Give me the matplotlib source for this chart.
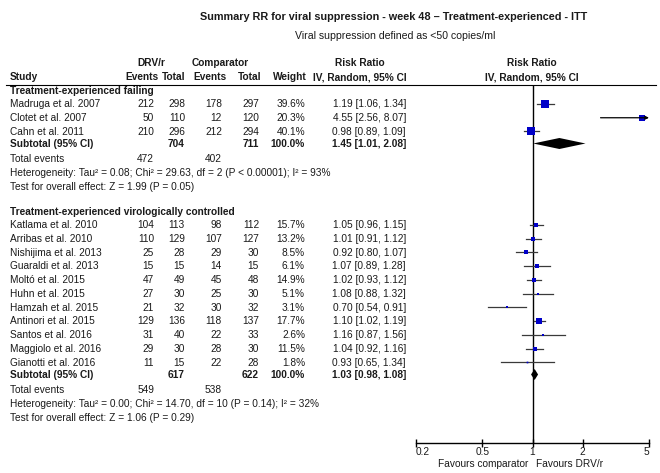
import numpy as np
import matplotlib
matplotlib.use("Agg")
import matplotlib.pyplot as plt

plt.rcParams['font.family'] = ['Liberation Sans', 'DejaVu Sans']

# ---- data ----
g1_name = "Treatment-experienced failing"
g1_study = ["Madruga et al. 2007", "Clotet et al. 2007", "Cahn et al. 2011"]
g1_ev_drv = [212, 50, 210]
g1_tot_drv = [298, 110, 296]
g1_ev_cmp = [178, 12, 212]
g1_tot_cmp = [297, 120, 294]
g1_weight = [39.6, 20.3, 40.1]
g1_rr = [1.19, 4.55, 0.98]
g1_lo = [1.06, 2.56, 0.89]
g1_hi = [1.34, 8.07, 1.09]
g1_sub = [1.45, 1.01, 2.08]
g1_totals = [704, 711, 472, 402]
g1_het = "Heterogeneity: Tau\u00b2 = 0.08; Chi\u00b2 = 29.63, df = 2 (P < 0.00001); I\u00b2 = 93%"
g1_test = "Test for overall effect: Z = 1.99 (P = 0.05)"

g2_name = "Treatment-experienced virologically controlled"
g2_study = ["Katlama et al. 2010", "Arribas et al. 2010", "Nishijima et al. 2013",
            "Guaraldi et al. 2013", "Moltó et al. 2015", "Huhn et al. 2015",
            "Hamzah et al. 2015", "Antinori et al. 2015", "Santos et al. 2016",
            "Maggiolo et al. 2016", "Gianotti et al. 2016"]
g2_ev_drv = [104, 110, 25, 15, 47, 27, 21, 129, 31, 29, 11]
g2_tot_drv = [113, 129, 28, 15, 49, 30, 32, 136, 40, 30, 15]
g2_ev_cmp = [98, 107, 29, 14, 45, 25, 30, 118, 22, 28, 22]
g2_tot_cmp = [112, 127, 30, 15, 48, 30, 32, 137, 33, 30, 28]
g2_weight = [15.7, 13.2, 8.5, 6.1, 14.9, 5.1, 3.1, 17.7, 2.6, 11.5, 1.8]
g2_rr = [1.05, 1.01, 0.92, 1.07, 1.02, 1.08, 0.70, 1.10, 1.16, 1.04, 0.93]
g2_lo = [0.96, 0.91, 0.80, 0.89, 0.93, 0.88, 0.54, 1.02, 0.87, 0.92, 0.65]
g2_hi = [1.15, 1.12, 1.07, 1.28, 1.12, 1.32, 0.91, 1.19, 1.56, 1.16, 1.34]
g2_sub = [1.03, 0.98, 1.08]
g2_totals = [617, 622, 549, 538]
g2_het = "Heterogeneity: Tau\u00b2 = 0.00; Chi\u00b2 = 14.70, df = 10 (P = 0.14); I\u00b2 = 32%"
g2_test = "Test for overall effect: Z = 1.06 (P = 0.29)"

ticks = [0.2, 0.5, 1, 2, 5]
tick_labels = ["0.2", "0.5", "1", "2", "5"]

W, H = 660, 473
fig = plt.figure(figsize=(W / 100, H / 100), dpi=100)
tx = fig.add_axes([0, 0, 1, 1])
tx.set_xlim(0, W)
tx.set_ylim(H, 0)
tx.axis('off')

x0, x1 = 416, 649
ytop, ybot = 85, 443
ax = fig.add_axes([x0 / W, (H - ybot) / H, (x1 - x0) / W, (ybot - ytop) / H])
ax.set_xscale('log')
ax.set_xlim(0.2, 5)
ax.set_ylim(ybot, ytop)
ax.patch.set_alpha(0)
for s in ['top', 'left', 'right']:
    ax.spines[s].set_visible(False)
ax.spines['bottom'].set_linewidth(1)
ax.set_yticks([])
ax.set_xticks(ticks)
ax.set_xticklabels(tick_labels)
ax.minorticks_off()
ax.tick_params(axis='x', direction='inout', length=6, width=1, pad=0, labelsize=7.3,
               labelcolor='#1a1a1a')
lbls = ax.get_xticklabels()
lbls[0].set_ha('left')
lbls[-1].set_ha('right')
ax.axvline(1, color='black', lw=1)

fs = 7.3
tc = '#1a1a1a'
cx = [10, 154, 185, 222, 259, 305, 406]  # column anchors

def txt(x, y, s, ha='right', bold=False, size=fs):
    tx.text(x, y, s, ha=ha, va='center', fontsize=size, color=tc,
            fontweight='bold' if bold else 'normal')

# title
tx.text(394, 17, "Summary RR for viral suppression - week 48 \u2013 Treatment-experienced - ITT",
        ha='center', va='center', fontsize=7.8, fontweight='bold', color=tc)
tx.text(395, 36, "Viral suppression defined as <50 copies/ml",
        ha='center', va='center', fontsize=7.6, color=tc)

# headers
txt(151, 63, "DRV/r", ha='center', bold=True)
txt(220, 63, "Comparator", ha='center', bold=True)
txt(360, 63, "Risk Ratio", ha='center', bold=True)
txt(532, 63, "Risk Ratio", ha='center', bold=True)
txt(cx[0], 77, "Study", ha='left', bold=True)
txt(158, 77, "Events", bold=True)
txt(185, 77, "Total", bold=True)
txt(227, 77, "Events", bold=True)
txt(261, 77, "Total", bold=True)
txt(307, 77, "Weight", bold=True)
txt(360, 77, "IV, Random, 95% CI", ha='center', bold=True)
txt(532, 77, "IV, Random, 95% CI", ha='center', bold=True)
tx.plot([6, 656], [85, 85], color='black', lw=0.8)

step = 13.75
blue = '#0000c8'

def group(ystart, name, study, evd, ttd, evc, ttc, wt, rr, lo, hi, sub, totals, het, test):
    txt(cx[0], ystart, name, ha='left', bold=True)
    ys = ystart + 13 + np.arange(len(study)) * step
    for i, y in enumerate(ys):
        txt(cx[0], y, study[i], ha='left')
        txt(cx[1], y, str(evd[i]))
        txt(cx[2], y, str(ttd[i]))
        txt(cx[3], y, str(evc[i]))
        txt(cx[4], y, str(ttc[i]))
        txt(cx[5], y, "%.1f%%" % wt[i])
        txt(cx[6], y, "%.2f [%.2f, %.2f]" % (rr[i], lo[i], hi[i]))
        if hi[i] > 5:
            ax.annotate('', xy=(5, y), xytext=(lo[i], y),
                        arrowprops=dict(arrowstyle='-|>', color='black', lw=0.9,
                                        mutation_scale=5, shrinkA=0, shrinkB=0))
        else:
            ax.plot([lo[i], hi[i]], [y, y], color='#3a3a3a', lw=0.9)
        side = 1.25 * np.sqrt(wt[i]) * 0.72
        ax.plot(rr[i], y, marker='s', ms=side, color=blue, mec=blue, mew=0)
    ysub = ys[-1] + 12
    txt(cx[0], ysub, "Subtotal (95% CI)", ha='left', bold=True)
    txt(cx[2], ysub, str(totals[0]), bold=True)
    txt(cx[4], ysub, str(totals[1]), bold=True)
    txt(cx[5], ysub, "100.0%", bold=True)
    txt(cx[6], ysub, "%.2f [%.2f, %.2f]" % tuple(sub), bold=True)
    est, l, h = sub
    ax.fill([l, est, h, est], [ysub, ysub - 5.5, ysub, ysub + 5.5], color='black', lw=0)
    yte = ysub + 15.5
    txt(cx[0], yte, "Total events", ha='left')
    txt(cx[1], yte, str(totals[2]))
    txt(cx[3], yte, str(totals[3]))
    txt(cx[0], yte + 13.75, het, ha='left')
    txt(cx[0], yte + 27.5, test, ha='left')

group(91, g1_name, g1_study, g1_ev_drv, g1_tot_drv, g1_ev_cmp, g1_tot_cmp,
      g1_weight, g1_rr, g1_lo, g1_hi, g1_sub, g1_totals, g1_het, g1_test)
group(212, g2_name, g2_study, g2_ev_drv, g2_tot_drv, g2_ev_cmp, g2_tot_cmp,
      g2_weight, g2_rr, g2_lo, g2_hi, g2_sub, g2_totals, g2_het, g2_test)

txt(528, 464, "Favours comparator", ha='right')
txt(536, 464, "Favours DRV/r", ha='left')

fig.savefig('out.png', dpi=100)
